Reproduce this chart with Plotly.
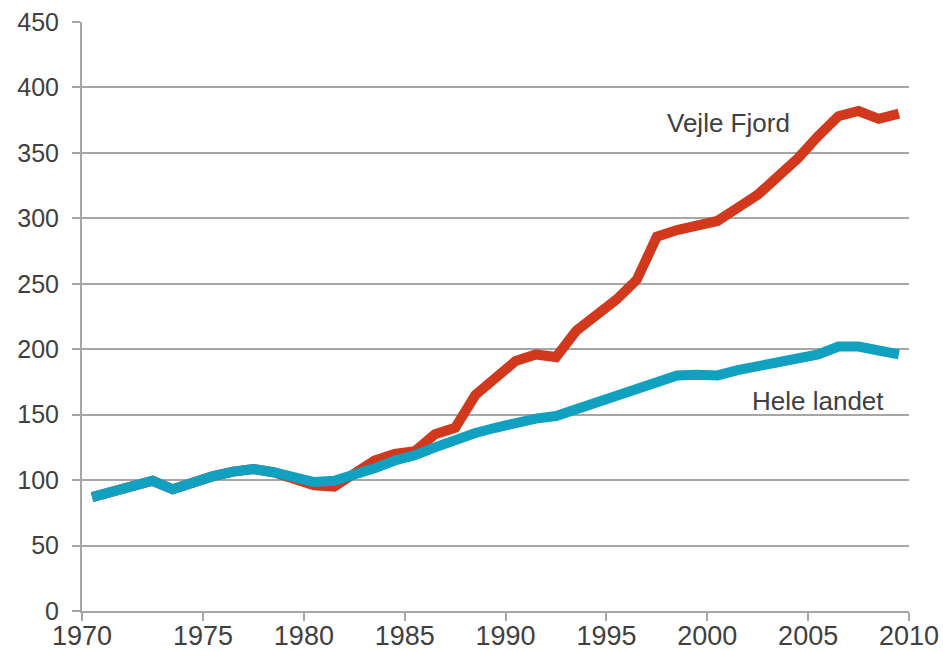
import plotly.graph_objects as go

years = list(range(1970, 2011))
hele_landet = [87, 91, 95, 99.5, 93, 98.5, 103, 106.5, 108.5, 106, 101.5, 98.5, 99.5,
               104, 109, 115, 119, 125, 131, 136, 140, 144, 147, 149, 154, 160, 165,
               171, 175, 180, 180.5, 180, 184, 187, 190, 192, 196, 202, 202, 199, 196]
vejle_fjord = [87, 91, 95, 99.5, 93, 98.5, 103, 106.5, 108.5, 106, 101, 96, 95,
               106, 115, 120, 122, 135, 140, 165, 177, 191, 196, 194, 214, 225, 238,
               253, 286, 291, 295, 298, 308, 318, 332, 346, 363, 378, 382, 376, 380]
tick_labels = ["1970", "1975", "1980", "1985", "1990", "1995", "2000", "2005", "2010"]
tick_pos = [1969.5, 1975.5, 1980.5, 1985.5, 1990.5, 1995.5, 2000.5, 2005.5, 2010.5]
y_ticks = list(range(0, 451, 50))

RED = "#D2381C"
CYAN = "#0FA1BF"
GRID = "#A6A6A6"
TXT = "#404040"
FONT = "Liberation Sans, Arial, sans-serif"
NARROW = "Liberation Sans Narrow, Arial Narrow, Liberation Sans, sans-serif"

fig = go.Figure()
fig.add_trace(go.Scatter(x=years, y=vejle_fjord, mode="lines", name="Vejle Fjord",
                         line=dict(color=RED, width=10), showlegend=False))
fig.add_trace(go.Scatter(x=years, y=hele_landet, mode="lines", name="Hele landet",
                         line=dict(color=CYAN, width=10), showlegend=False))

fig.add_annotation(x=2001.56, y=372.7, text="Vejle Fjord", showarrow=False,
                   xref="x", yref="y", font=dict(size=26, color=TXT, family=FONT))
fig.add_annotation(x=2005.98, y=160.6, text="Hele landet", showarrow=False,
                   xref="x", yref="y", font=dict(size=26, color=TXT, family=FONT))

fig.update_layout(
    template="none",
    width=943, height=651,
    margin=dict(l=82, r=34, t=22, b=40, pad=0),
    paper_bgcolor="white", plot_bgcolor="white",
    font=dict(family=FONT, size=25, color=TXT),
    xaxis=dict(range=[1969.5, 2010.5], tickvals=tick_pos, ticktext=tick_labels,
               showgrid=False, showline=True, linecolor=GRID, linewidth=2,
               ticks="outside", ticklen=8, tickwidth=2, tickcolor=GRID,
               zeroline=False, automargin=False, ticklabelstandoff=-8,
               tickfont=dict(size=27, color=TXT, family=NARROW)),
    yaxis=dict(range=[0, 450], tickvals=y_ticks, showgrid=True, gridcolor=GRID,
               gridwidth=1.5, showline=True, linecolor=GRID, linewidth=2,
               ticks="outside", ticklen=8, tickwidth=2, tickcolor=GRID,
               zeroline=False, ticklabelstandoff=8, automargin=False,
               tickfont=dict(size=25, color=TXT, family=FONT)),
)

fig.write_html("out.html", config={"displayModeBar": False},
               post_script="document.body.style.margin='0';document.body.style.overflow='hidden';")
